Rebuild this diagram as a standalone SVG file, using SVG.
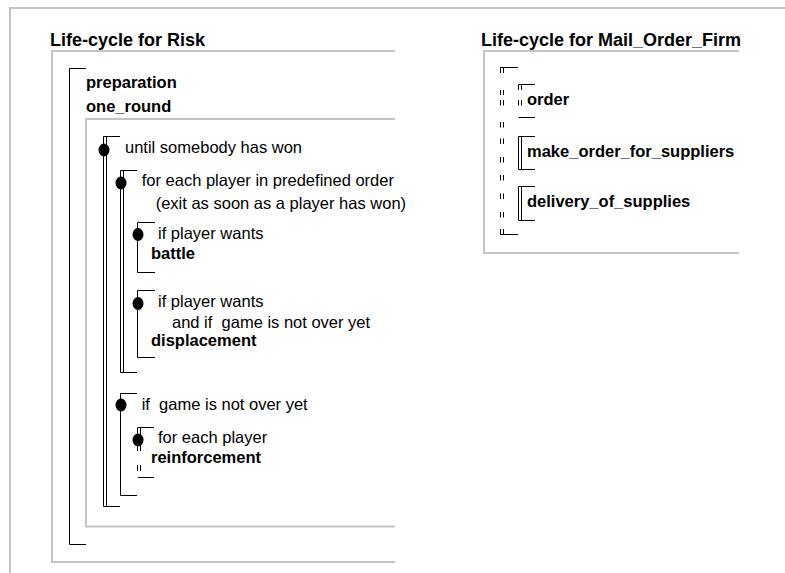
<svg xmlns="http://www.w3.org/2000/svg" width="785" height="573" viewBox="0 0 785 573">
  <style>
    .frame { fill: none; stroke: #c4c4c4; stroke-width: 2; }
    .br { fill: none; stroke: #000; stroke-width: 1; }
    .dot { fill: #000; }
    .title { font-family: "Liberation Sans", Arial, sans-serif; font-size: 18px; font-weight: bold; fill: #000; }
    .act { font-family: "Liberation Sans", Arial, sans-serif; font-size: 16.5px; font-weight: bold; fill: #000; }
    .cond { font-family: "Liberation Sans", Arial, sans-serif; font-size: 16.5px; fill: #000; white-space: pre; }
  </style>
  <rect width="785" height="573" fill="#fff"/>

  <!-- page frame -->
  <g id="page">
    <path class="frame" d="M785,8 H10 V573"/>
  </g>

  <!-- Risk life-cycle -->
  <g id="risk">
    <text class="title" x="50" y="45.5">Life-cycle for Risk</text>
    <path class="frame" d="M395,51 H52 V562 H395"/>
  </g>
  <g id="preparation">
    <text class="act" x="86" y="88">preparation</text>
  </g>
  <g id="one_round">
    <text class="act" x="86" y="112">one_round</text>
    <path class="frame" d="M395,119 H86 V526.5 H395"/>
  </g>
  <g id="until_won">
    <ellipse class="dot" cx="104" cy="150" rx="5.5" ry="6.5"/>
    <text class="cond" x="125" y="153">until somebody has won</text>
  </g>
  <g id="each_player_order">
    <ellipse class="dot" cx="121" cy="183" rx="5.5" ry="6.5"/>
    <text class="cond" x="141.7" y="186">for each player in predefined order</text>
    <text class="cond" x="155.7" y="209">(exit as soon as a player has won)</text>
  </g>
  <g id="battle">
    <ellipse class="dot" cx="138" cy="234.5" rx="5.5" ry="6.5"/>
    <text class="cond" x="158" y="238.5">if player wants</text>
    <text class="act" x="151" y="259">battle</text>
  </g>
  <g id="displacement">
    <ellipse class="dot" cx="138" cy="303.5" rx="5.5" ry="6.5"/>
    <text class="cond" x="158" y="307">if player wants</text>
    <text class="cond" x="172" y="327.5">and if  game is not over yet</text>
    <text class="act" x="151" y="346">displacement</text>
  </g>
  <g id="game_not_over">
    <ellipse class="dot" cx="121" cy="405" rx="5.5" ry="6.5"/>
    <text class="cond" x="141.7" y="410">if  game is not over yet</text>
  </g>
  <g id="reinforcement">
    <ellipse class="dot" cx="138" cy="440" rx="5.5" ry="6.5"/>
    <text class="cond" x="158" y="443">for each player</text>
    <text class="act" x="151" y="463">reinforcement</text>
  </g>

  <!-- Mail_Order_Firm life-cycle -->
  <g id="mail_order_firm">
    <text class="title" x="481" y="45.5">Life-cycle for Mail_Order_Firm</text>
    <path class="frame" d="M739,51 H484 V253 H739"/>
  </g>
  <g id="order">
    <text class="act" x="527" y="105">order</text>
  </g>
  <g id="make_order_for_suppliers">
    <text class="act" x="527" y="157">make_order_for_suppliers</text>
  </g>
  <g id="delivery_of_supplies">
    <text class="act" x="527" y="207">delivery_of_supplies</text>
  </g>

  <!-- structure brackets -->
  <g id="connectors">
    <!-- Risk: sequence -->
    <path class="br" d="M86,68.5 H69.5 V544.5 H86"/>
    <!-- until somebody has won -->
    <path class="br" d="M120,136.5 H103.5 V506.5 H120"/>
    <line class="br" x1="106.5" y1="136.5" x2="106.5" y2="506.5"/>
    <!-- for each player in predefined order -->
    <path class="br" d="M137,170.5 H120.5 V372.5 H137"/>
    <line class="br" x1="123.5" y1="170.5" x2="123.5" y2="372.5"/>
    <!-- battle -->
    <path class="br" d="M155,222.5 H137.5 V272.5 H155"/>
    <!-- displacement -->
    <path class="br" d="M155,290.5 H137.5 V357.5 H155"/>
    <!-- if game is not over yet -->
    <path class="br" d="M137,393.5 H120.5 V495.5 H137"/>
    <!-- reinforcement -->
    <path class="br" d="M154,427.5 H137.5 V451"/>
    <line class="br" x1="140.5" y1="427.5" x2="140.5" y2="451"/>
    <path class="br" d="M137.5,465 V471 M140.5,465 V471"/>
    <line class="br" x1="138" y1="477.5" x2="154" y2="477.5"/>

    <!-- Mail_Order_Firm: outer sequence -->
    <path class="br" d="M518,67.5 H500.5 V73 M503.5,67.5 V73"/>
    <path class="br" d="M500.5,90 V95 M503.5,90 V95
                        M500.5,100 V105.5 M503.5,100 V105.5
                        M500.5,122 V127.5 M503.5,122 V127.5
                        M500.5,138.5 V144 M503.5,138.5 V144
                        M500.5,157 V162.5 M503.5,157 V162.5
                        M500.5,175 V180.5 M503.5,175 V180.5
                        M500.5,193.5 V199 M503.5,193.5 V199
                        M500.5,212 V217.5 M503.5,212 V217.5"/>
    <path class="br" d="M500.5,229 V234.5 H518 M503.5,229 V234.5"/>
    <!-- order -->
    <path class="br" d="M535,84.5 H518.5 V90 M521.5,84.5 V90"/>
    <path class="br" d="M518.5,100 V105.5 M521.5,100 V105.5"/>
    <line class="br" x1="518.5" y1="117.5" x2="535" y2="117.5"/>
    <!-- make_order_for_suppliers -->
    <path class="br" d="M535,136.5 H518.5 V169.5 H535"/>
    <line class="br" x1="521.5" y1="136.5" x2="521.5" y2="169.5"/>
    <!-- delivery_of_supplies -->
    <path class="br" d="M535,186.5 H518.5 V220.5 H535"/>
    <line class="br" x1="521.5" y1="186.5" x2="521.5" y2="220.5"/>
  </g>
</svg>
